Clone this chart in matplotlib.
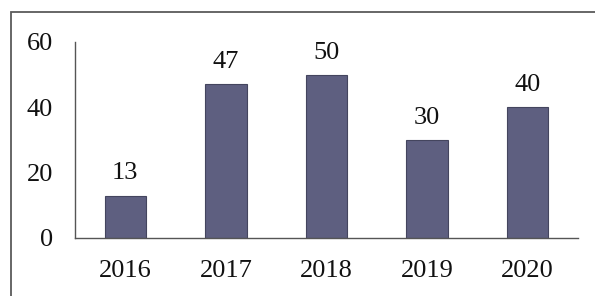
import matplotlib.pyplot as plt
from matplotlib.patches import Rectangle

# DATA
years = ["2016", "2017", "2018", "2019", "2020"]
values = [13, 47, 50, 30, 40]
y_ticks = [0, 20, 40, 60]

plt.rcParams["font.family"] = ["Liberation Serif", "DejaVu Serif"]

W, H = 595, 296
fig = plt.figure(figsize=(W / 100, H / 100), dpi=100)

# outer frame, right and bottom edges run off the picture
fig.patches.append(Rectangle((11 / W, -0.1), 1.2, 1 - 12 / H + 0.1,
                             transform=fig.transFigure, fill=False,
                             edgecolor="#5a5a5a", linewidth=1.3))

# axes box: x 75..578 px, y 42..238 px (from top)
ax = fig.add_axes([75 / W, 1 - 238 / H, (578 - 75) / W, (238 - 42) / H])
ax.patch.set_alpha(0)

x = range(len(years))
bars = ax.bar(x, values, width=0.41, color="#5e5f80",
              edgecolor="#44455e", linewidth=0.8)

for xi, v in zip(x, values):
    ax.annotate(str(v), (xi, v), xytext=(0, 8), textcoords="offset points",
                ha="center", va="bottom", fontsize=19, color="#111111")

ax.set_xlim(-0.5, len(years) - 0.5)
ax.set_ylim(0, 60)
ax.set_yticks(y_ticks)
ax.set_xticks(list(x))
ax.set_xticklabels(years)

for s in ["top", "right"]:
    ax.spines[s].set_visible(False)
for s in ["left", "bottom"]:
    ax.spines[s].set_color("#555555")
    ax.spines[s].set_linewidth(1.0)

ax.tick_params(axis="both", length=0, labelsize=19, labelcolor="#111111")
ax.tick_params(axis="y", pad=16)
ax.tick_params(axis="x", pad=16)

fig.savefig("out.png", dpi=100)
